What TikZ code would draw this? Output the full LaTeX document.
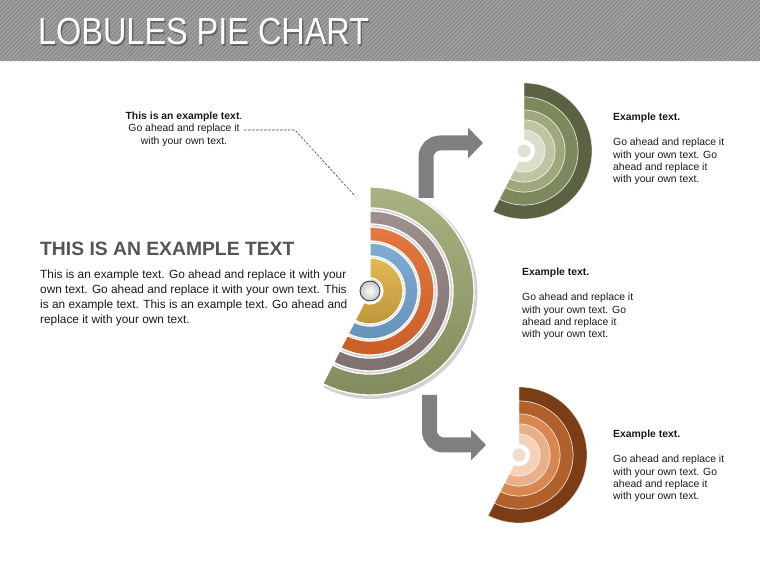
\documentclass[tikz,border=0pt]{standalone}
\usepackage{fontspec}
\setmainfont{Liberation Sans}
\newfontfamily\titlefont[FakeStretch=0.86]{Liberation Sans}
\usepackage{xcolor}
\usetikzlibrary{calc,positioning,arrows.meta,patterns.meta,shadings}

\definecolor{barGrey}{HTML}{8C8C8C}
\definecolor{barStripe}{HTML}{A9A9A9}
\definecolor{headGrey}{HTML}{555555}
\definecolor{arrowGrey}{HTML}{7F7F7F}
\definecolor{lobeGreen}{HTML}{9AA46C}
\definecolor{lobeMauve}{HTML}{8C7C7A}
\definecolor{lobeOrange}{HTML}{E0692B}
\definecolor{lobeBlue}{HTML}{72A3CF}
\definecolor{lobeYellow}{HTML}{E0B143}
\definecolor{oliveA}{HTML}{5A6241}
\definecolor{oliveB}{HTML}{7D895C}
\definecolor{oliveC}{HTML}{9EA87C}
\definecolor{oliveD}{HTML}{BEC5A3}
\definecolor{oliveE}{HTML}{DADECB}
\definecolor{oliveF}{HTML}{DFE1D6}
\definecolor{rustA}{HTML}{7A3D16}
\definecolor{rustB}{HTML}{B0602A}
\definecolor{rustC}{HTML}{D88750}
\definecolor{rustD}{HTML}{EBB089}
\definecolor{rustE}{HTML}{F4D1B8}
\definecolor{rustF}{HTML}{F2DDD0}

% one ring of a lobe: centre, inner radius, outer radius, style
\newcommand{\lobering}[4]{%
  \path[#4] ($(#1)+(90:#3)$) arc[start angle=90,end angle=-117,radius=#3]
    -- ($(#1)+(-117:#2)$) arc[start angle=-117,end angle=90,radius=#2] -- cycle;}

\begin{document}
\begin{tikzpicture}[x=1pt, y=1pt,
    note/.style={inner sep=0pt, align=left, text=black!90, font=\fontsize{10.4}{12.4}\selectfont},
    bigarrow/.style={draw=arrowGrey, line width=15pt, rounded corners=14pt, -{Triangle[length=15pt,width=30pt]}},
    bigring/.style={draw=white, line width=1.3pt, shade},
    smallring/.style={draw=white, draw opacity=0.6, line width=0.7pt}
]
    \useasboundingbox (0,0) rectangle (760,570);

    % title bar
    \fill[barGrey] (0,508) rectangle (760,570);
    \fill[pattern={Lines[angle=45,distance=3pt,line width=0.9pt]}, pattern color=barStripe] (0,508) rectangle (760,570);
    \draw[white!85!gray, line width=1pt] (0,508.5) -- (760,508.5);
    \node[anchor=base west, inner sep=0pt, text=black!60, font=\titlefont\fontsize{37.7}{40}\selectfont] (titleShadow) at (39.5,523.5) {LOBULES PIE CHART};
    \node[anchor=base west, inner sep=0pt, text=white, font=\titlefont\fontsize{37.7}{40}\selectfont] (title) at (38,525) {LOBULES PIE CHART};

    % lobe centres
    \coordinate (hub) at (370,279);
    \coordinate (hubShade) at (371.5,277);
    \coordinate (hubUp) at (524,419);
    \coordinate (hubDown) at (519,115);

    % arrows
    \coordinate (upFoot) at (426,372);
    \coordinate (upTip) at (483,427);
    \coordinate (downFoot) at (429.5,175);
    \coordinate (downTip) at (486,125);
    \draw[bigarrow] (upFoot) |- (upTip);
    \draw[bigarrow] (downFoot) |- (downTip);

    % big lobe
    \lobering{hubShade}{12}{106}{fill=black!18}
    \lobering{hub}{83}{104}{bigring, top color=lobeGreen!85!white, bottom color=lobeGreen!85!black}
    \lobering{hub}{67}{80}{bigring, top color=lobeMauve!85!white, bottom color=lobeMauve!90!black}
    \lobering{hub}{50}{64}{bigring, top color=lobeOrange!90!white, bottom color=lobeOrange!90!black}
    \lobering{hub}{35}{48}{bigring, top color=lobeBlue!90!white, bottom color=lobeBlue!90!black}
    \lobering{hub}{13}{33}{bigring, top color=lobeYellow!90!white, bottom color=lobeYellow!85!black}
    \node[circle, minimum size=20pt, inner sep=0pt, draw=gray!50!black, line width=0.9pt, inner color=white, outer color=gray!45] (knob) at (hub) {};

    % olive lobe
    \lobering{hubUp}{54}{68}{smallring, fill=oliveA}
    \lobering{hubUp}{41}{54}{smallring, fill=oliveB}
    \lobering{hubUp}{31}{41}{smallring, fill=oliveC}
    \lobering{hubUp}{21}{31}{smallring, fill=oliveD}
    \lobering{hubUp}{11}{21}{smallring, fill=oliveE}
    \node[circle, minimum size=13pt, inner sep=0pt, fill=oliveF] (dotUp) at (hubUp) {};

    % rust lobe
    \lobering{hubDown}{54}{68}{smallring, fill=rustA}
    \lobering{hubDown}{41}{54}{smallring, fill=rustB}
    \lobering{hubDown}{31}{41}{smallring, fill=rustC}
    \lobering{hubDown}{21}{31}{smallring, fill=rustD}
    \lobering{hubDown}{11}{21}{smallring, fill=rustE}
    \node[circle, minimum size=13pt, inner sep=0pt, fill=rustF] (dotDown) at (hubDown) {};

    % callout
    \node[note, anchor=north, align=center] (callout) at (184,458.5)
        {\textbf{This is an example text}.\\Go ahead and replace it\\with your own text.};
    \coordinate (calloutStart) at (244,440);
    \coordinate (calloutBend) at (295,440);
    \coordinate (calloutEnd) at (355,374);
    \draw[black!75, line width=0.6pt, dash pattern=on 2.5pt off 1.5pt] (calloutStart) -- (calloutBend) -- (calloutEnd);

    % left block
    \node[anchor=base west, inner sep=0pt, text=headGrey, font=\bfseries\fontsize{19.3}{22}\selectfont] (heading) at (40,314) {THIS IS AN EXAMPLE TEXT};
    \node[anchor=north west, inner sep=0pt, align=left, text=black!90, font=\fontsize{11.85}{15}\selectfont] (body) at (40,300.4)
        {This is an example text. Go ahead and replace it with your\\
         own text. Go ahead and replace it with your own text. This\\
         is an example text. This is an example text. Go ahead and\\
         replace it with your own text.};

    % right notes
    \node[note, anchor=north west] (noteUp) at (613,456.8)
        {\textbf{Example text.}\\[12.4pt]Go ahead and replace it\\with your own text. Go\\ahead and replace it\\with your own text.};
    \node[note, anchor=north west] (noteMid) at (522,301.8)
        {\textbf{Example text.}\\[12.4pt]Go ahead and replace it\\with your own text. Go\\ahead and replace it\\with your own text.};
    \node[note, anchor=north west] (noteDown) at (613,139.8)
        {\textbf{Example text.}\\[12.4pt]Go ahead and replace it\\with your own text. Go\\ahead and replace it\\with your own text.};
\end{tikzpicture}
\end{document}
